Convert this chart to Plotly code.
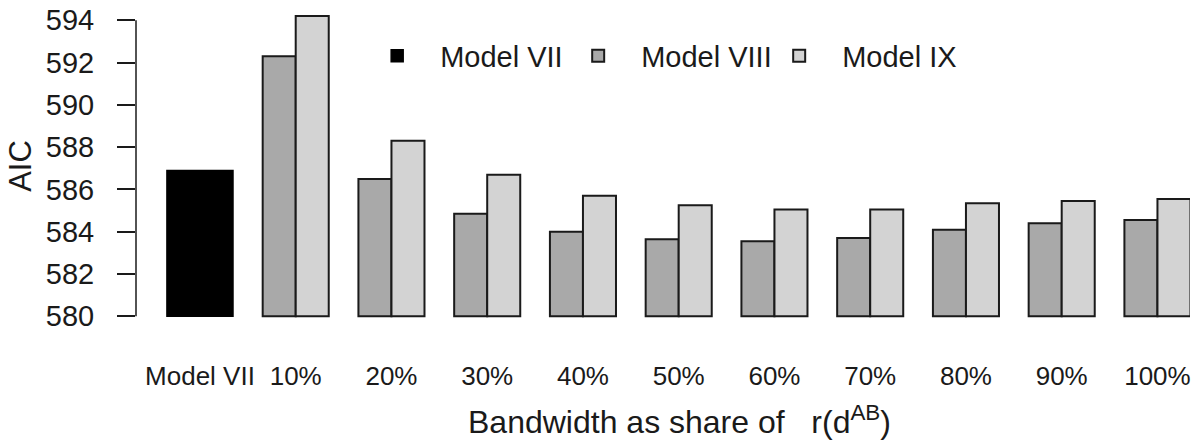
import plotly.graph_objects as go

categories = ["Model VII", "10%", "20%", "30%", "40%", "50%", "60%", "70%", "80%", "90%", "100%"]
model_vii = [586.9]
model_viii = [592.3, 586.5, 584.85, 584.0, 583.65, 583.55, 583.7, 584.1, 584.4, 584.55]
model_ix = [594.2, 588.3, 586.7, 585.7, 585.25, 585.05, 585.05, 585.35, 585.45, 585.55]
y_ticks = [580, 582, 584, 586, 588, 590, 592, 594]
base_value = 580
x_title = "Bandwidth as share of   r(d<sup>AB</sup>)"

FONT = "Liberation Sans, Arial, sans-serif"
INK = "#1a1a1a"

fig = go.Figure()
fig.add_trace(go.Bar(
    name="Model VII", x=categories[:1], y=[v - base_value for v in model_vii], base=base_value,
    width=0.69, offset=-0.345, marker=dict(color="#000000", line=dict(color="#000000", width=1.5)),
))
fig.add_trace(go.Bar(
    name="Model VIII", x=categories[1:], y=[v - base_value for v in model_viii], base=base_value,
    width=0.345, offset=-0.345, marker=dict(color="#a9a9a9", line=dict(color="#1a1a1a", width=2)),
))
fig.add_trace(go.Bar(
    name="Model IX", x=categories[1:], y=[v - base_value for v in model_ix], base=base_value,
    width=0.345, offset=0.0, marker=dict(color="#d3d3d3", line=dict(color="#1a1a1a", width=2)),
))

fig.update_layout(
    width=1193, height=445,
    margin=dict(l=136, r=3, t=14, b=127, autoexpand=False),
    paper_bgcolor="white", plot_bgcolor="white",
    barmode="overlay",
    font=dict(family=FONT, color=INK),
    showlegend=True,
    legend=dict(
        orientation="h", x=0.207, y=0.862, xanchor="left", yanchor="middle",
        font=dict(size=29, family=FONT, color=INK),
        itemwidth=76, entrywidthmode="pixels", entrywidth=110,
        bgcolor="rgba(0,0,0,0)", traceorder="normal",
    ),
    xaxis=dict(
        type="category", categoryorder="array", categoryarray=categories, automargin=False,
        range=[-0.668, 10.34], showline=False, showgrid=False, zeroline=False,
        ticks="", tickfont=dict(size=26, family=FONT, color=INK), ticklabelstandoff=40,
    ),
    yaxis=dict(
        range=[579.92, 594.3], tickvals=y_ticks, showline=False, showgrid=False, zeroline=False,
        automargin=False,
        ticks="outside", ticklen=18, tickwidth=1.5, tickcolor=INK,
        tickfont=dict(size=29, family=FONT, color=INK), ticklabelstandoff=17,
        title=dict(text="AIC", font=dict(size=31, family=FONT, color=INK), standoff=4),
    ),
    shapes=[dict(type="line", xref="paper", yref="y", x0=0, x1=0, y0=y_ticks[0], y1=y_ticks[-1],
                 line=dict(color=INK, width=1.5))],
    annotations=[dict(text=x_title, xref="paper", yref="paper", x=0.5157, y=-0.335,
                      xanchor="center", yanchor="middle", showarrow=False,
                      font=dict(size=32, family=FONT, color=INK))],
)

fig.write_html("out.html", config={"displayModeBar": False},
               post_script="document.body.style.margin='0';")
